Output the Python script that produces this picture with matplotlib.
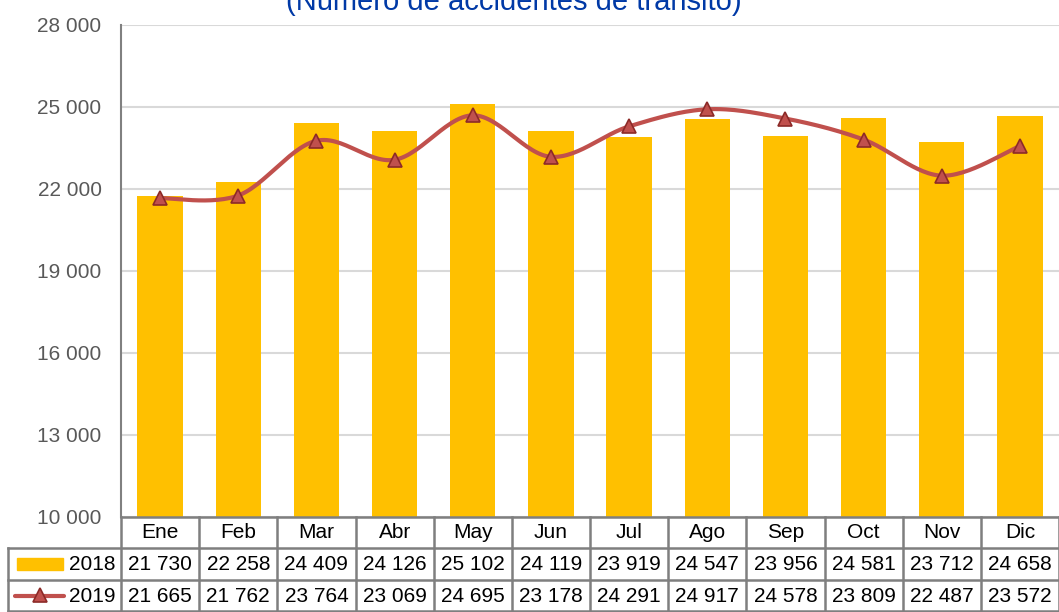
import matplotlib.pyplot as plt
import numpy as np
from matplotlib.lines import Line2D
from matplotlib.patches import Rectangle

plt.rcParams['font.family'] = ['Liberation Sans', 'DejaVu Sans']

# data
months = ['Ene', 'Feb', 'Mar', 'Abr', 'May', 'Jun', 'Jul', 'Ago', 'Sep', 'Oct', 'Nov', 'Dic']
vals_2018 = [21730, 22258, 24409, 24126, 25102, 24119, 23919, 24547, 23956, 24581, 23712, 24658]
vals_2019 = [21665, 21762, 23764, 23069, 24695, 23178, 24291, 24917, 24578, 23809, 22487, 23572]
yticks = [10000, 13000, 16000, 19000, 22000, 25000, 28000]
title = '(Número de accidentes de tránsito)'

BAR = '#FFC000'
LINE = '#C0504D'
GRID = '#D9D9D9'
TBL = '#7F7F7F'

W, H = 1059, 612
fig = plt.figure(figsize=(W / 100, H / 100), dpi=100)


def fx(x):
    return x / W


def fy(y):
    return 1 - y / H


ax_l, ax_r, ax_t, ax_b = 121, 1059, 25, 517
ax = fig.add_axes([fx(ax_l), fy(ax_b), fx(ax_r - ax_l), (ax_b - ax_t) / H])

x = np.arange(len(months))
ax.bar(x, vals_2018, width=0.58, color=BAR, zorder=2)


# smooth line like Excel (Catmull-Rom through the points)
def smooth(xs, ys, n=30):
    xs = np.asarray(xs, float)
    ys = np.asarray(ys, float)
    px = np.concatenate([[xs[0]], xs, [xs[-1]]])
    py = np.concatenate([[ys[0]], ys, [ys[-1]]])
    outx, outy = [], []
    for i in range(1, len(px) - 2):
        p0, p1, p2, p3 = [np.array([px[j], py[j]]) for j in (i - 1, i, i + 1, i + 2)]
        c1 = p1 + (p2 - p0) / 6
        c2 = p2 - (p3 - p1) / 6
        t = np.linspace(0, 1, n)[:, None]
        pts = ((1 - t) ** 3) * p1 + 3 * ((1 - t) ** 2) * t * c1 + 3 * (1 - t) * t ** 2 * c2 + t ** 3 * p2
        outx.extend(pts[:, 0])
        outy.extend(pts[:, 1])
    return outx, outy


sx, sy = smooth(x, vals_2019)
ax.plot(sx, sy, color=LINE, lw=3, zorder=3, solid_capstyle='round')
ax.plot(x, vals_2019, ls='none', marker='^', ms=10, mfc=LINE, mec='#8C2A28', mew=1.2, zorder=4)

ax.set_xlim(-0.5, len(months) - 0.5)
ax.set_ylim(10000, 28000)
ax.set_yticks(yticks)
ax.set_yticklabels([f'{v:,}'.replace(',', ' ') for v in yticks], fontsize=15, color='#595959')
ax.tick_params(axis='y', length=0, pad=14)
ax.set_xticks([])
ax.yaxis.grid(True, color=GRID, lw=1.5, zorder=0)
ax.set_axisbelow(True)
for s in ['top', 'right', 'bottom']:
    ax.spines[s].set_visible(False)
ax.spines['left'].set_color('#808080')
ax.spines['left'].set_linewidth(1.5)

fig.text(fx(514), fy(10), title, ha='center', va='baseline', fontsize=21, color='#0039A6')

# data table under the chart
row_y = [517, 548, 580, 612]
col_x = [ax_l + (ax_r - ax_l) * i / len(months) for i in range(len(months) + 1)]
left_x = 8
lines = []
lines.append(([ax_l, ax_r], [row_y[0], row_y[0]]))
lines.append(([left_x, ax_r], [row_y[1], row_y[1]]))
lines.append(([left_x, ax_r], [row_y[2], row_y[2]]))
lines.append(([left_x, ax_r], [row_y[3] - 1, row_y[3] - 1]))
lines.append(([left_x, left_x], [row_y[1], row_y[3]]))
for cx in col_x:
    lines.append(([cx, cx], [row_y[0], row_y[3]]))
for lx, ly in lines:
    fig.add_artist(Line2D([fx(v) for v in lx], [fy(v) for v in ly], color=TBL, lw=1.8))

for i, m in enumerate(months):
    cx = (col_x[i] + col_x[i + 1]) / 2
    fig.text(fx(cx), fy((row_y[0] + row_y[1]) / 2), m, ha='center', va='center', fontsize=15)
    for r, vals in enumerate([vals_2018, vals_2019]):
        cy = (row_y[r + 1] + row_y[r + 2]) / 2
        fig.text(fx(cx), fy(cy), f'{vals[i]:,}'.replace(',', ' '), ha='center', va='center', fontsize=15)

# legend keys in the table
for r, lab in enumerate(['2018', '2019']):
    cy = (row_y[r + 1] + row_y[r + 2]) / 2
    fig.text(fx(115), fy(cy), lab, ha='right', va='center', fontsize=15)
cy = (row_y[1] + row_y[2]) / 2
fig.add_artist(Rectangle((fx(17), fy(cy + 6)), fx(46), 12 / H, color=BAR, transform=fig.transFigure))
cy = (row_y[2] + row_y[3]) / 2
fig.add_artist(Line2D([fx(15), fx(64)], [fy(cy), fy(cy)], color=LINE, lw=3, solid_capstyle='round'))
fig.add_artist(Line2D([fx(40)], [fy(cy - 1)], marker='^', ms=10, mfc=LINE, mec='#8C2A28', mew=1.2))

fig.savefig('out.png', dpi=100)
